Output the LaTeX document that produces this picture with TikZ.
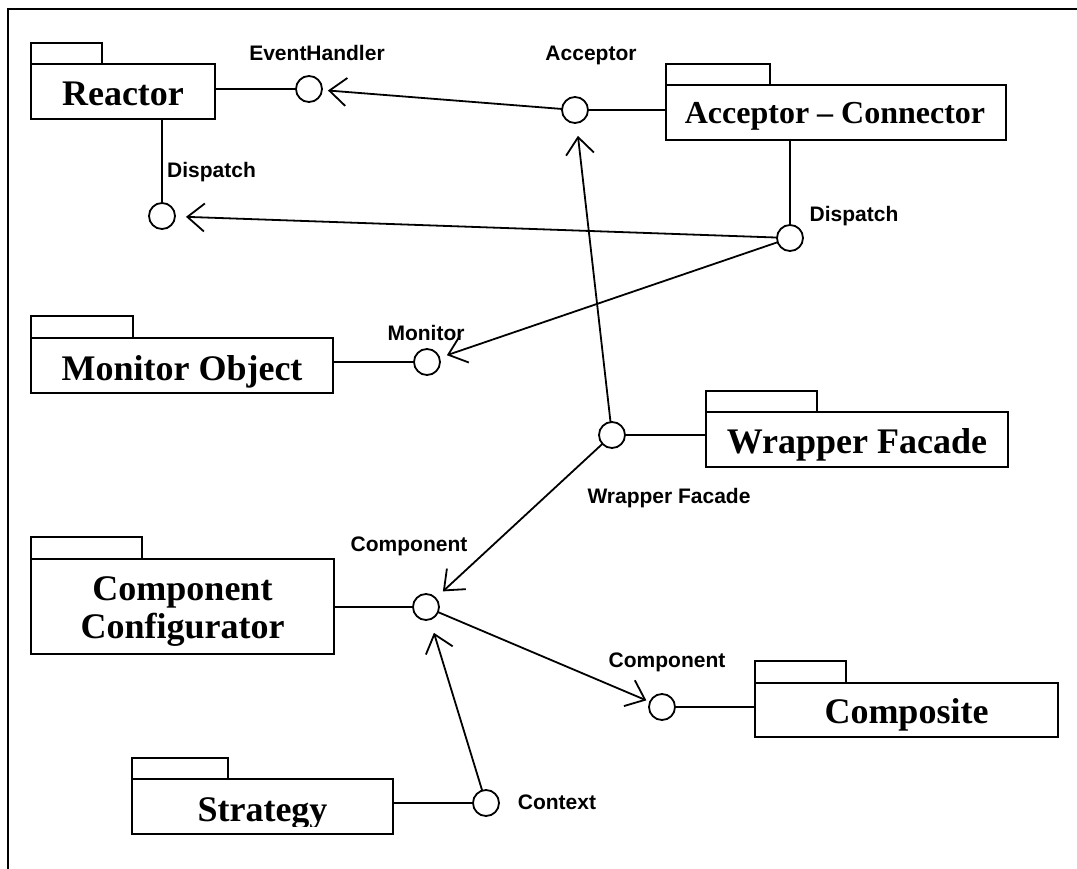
\documentclass[tikz,border=0pt]{standalone}
\usepackage{fontspec}
\setmainfont{Liberation Serif}
\setsansfont{Liberation Sans}
\usetikzlibrary{arrows.meta}

\tikzset{
  every picture/.style={x=1pt,y=-1pt},
  pkgbox/.style={draw, line width=1.8pt, rectangle, inner sep=0pt, outer sep=0pt},
  pkgtitle/.style={inner sep=0pt, anchor=base, font=\fontsize{36}{40}\selectfont\bfseries},
  iface/.style={draw, circle, line width=1.8pt, fill=white, minimum size=26pt, inner sep=0pt, outer sep=0pt},
  ilabel/.style={inner sep=0pt, anchor=base, font=\sffamily\bfseries\fontsize{21}{24}\selectfont},
  link/.style={line width=1.8pt},
  dep/.style={line width=1.8pt, -{Straight Barb[length=17pt,width=28pt,line width=1.8pt]}},
}

% package: name, centre, width, height, tab width, tab height
\newcommand{\pkgframe}[6]{%
  \node[pkgbox, minimum width=#3pt, minimum height=#4pt] (#1) at (#2) {};
  \draw[line width=1.8pt] (#1.north west) rectangle ++(#5,-#6);
}

\begin{document}
\begin{tikzpicture}
\useasboundingbox (0,0) rectangle (1077,869);

% outer frame (top and left edges)
\draw[line width=2pt] (8,869) -- (8,9) -- (1077,9);

% packages
\pkgframe{reactor}{123,91.5}{184}{55}{71}{21}
\node[pkgtitle] (reactorT) at (123,106) {Reactor};

\pkgframe{accon}{836,112.5}{340}{55}{104}{21}
\node[pkgtitle, font=\fontsize{32}{37}\selectfont\bfseries] (acconT) at (835,124) {Acceptor – Connector};

\pkgframe{monitor}{182,365.5}{302}{55}{102}{22}
\node[pkgtitle] (monitorT) at (182,380) {Monitor Object};

\pkgframe{wrapper}{857,439.5}{302}{55}{111}{21}
\node[pkgtitle] (wrapperT) at (857,453) {Wrapper Facade};

\pkgframe{compconf}{182.5,606.5}{303}{95}{111}{22}
\node[pkgtitle] (compconfT1) at (182.5,600) {Component};
\begin{scope}
  \clip (32,610) rectangle (333,646);
  \node[pkgtitle] (compconfT2) at (182.5,638) {Configurator};
\end{scope}

\pkgframe{composite}{906.5,710}{303}{54}{91}{22}
\node[pkgtitle] (compositeT) at (906.5,723) {Composite};

\pkgframe{strategy}{262.5,806.5}{261}{55}{96}{21}
\begin{scope}
  \clip (133,780) rectangle (392,826);
  \node[pkgtitle] (strategyT) at (262.5,821) {Strategy};
\end{scope}

% interfaces
\node[iface] (ehC)  at (309,89)  {};
\node[iface] (rdC)  at (162,216) {};
\node[iface] (accC) at (575,110) {};
\node[iface] (acdC) at (790,238) {};
\node[iface] (monC) at (427,362) {};
\node[iface] (wfC)  at (612,435) {};
\node[iface] (ccC)  at (426,607) {};
\node[iface] (cmpC) at (662,707) {};
\node[iface] (ctxC) at (486,803) {};

% interface labels
\node[ilabel] (ehL)   at (317,61)  {EventHandler};
\node[ilabel] (accL)  at (591,61)  {Acceptor};
\node[ilabel, anchor=base west] (rdL) at (167,178) {Dispatch};
\node[ilabel] (acdL)  at (854,222) {Dispatch};
\node[ilabel] (monL)  at (426,340) {Monitor};
\node[ilabel] (wfL)   at (669,503) {Wrapper Facade};
\node[ilabel] (ccL)   at (409,551) {Component};
\node[ilabel] (cmpL)  at (667,667) {Component};
\node[ilabel] (ctxL)  at (557,809) {Context};

% provided interfaces
\draw[link] (ehC.west) -- (ehC.west -| reactor.east);
\draw[link] (rdC.north) -- (rdC.north |- reactor.south);
\draw[link] (accC.east) -- (accC.east -| accon.west);
\draw[link] (acdC.north) -- (acdC.north |- accon.south);
\draw[link] (monC.west) -- (monC.west -| monitor.east);
\draw[link] (wfC.east) -- (wfC.east -| wrapper.west);
\draw[link] (ccC.west) -- (ccC.west -| compconf.east);
\draw[link] (cmpC.east) -- (cmpC.east -| composite.west);
\draw[link] (ctxC.west) -- (ctxC.west -| strategy.east);

% dependencies
\draw[dep, shorten >=6pt]  (accC) -- (ehC);
\draw[dep, shorten >=11pt] (acdC) -- (rdC);
\draw[dep, shorten >=8pt]  (acdC) -- (monC);
\draw[dep, shorten >=13pt] (wfC) -- (accC);
\draw[dep, shorten >=10pt] (wfC) -- (ccC);
\draw[dep, shorten >=4pt]  (ccC) -- (cmpC);
\draw[dep, shorten >=14pt] (ctxC) -- (ccC);
\end{tikzpicture}
\end{document}
